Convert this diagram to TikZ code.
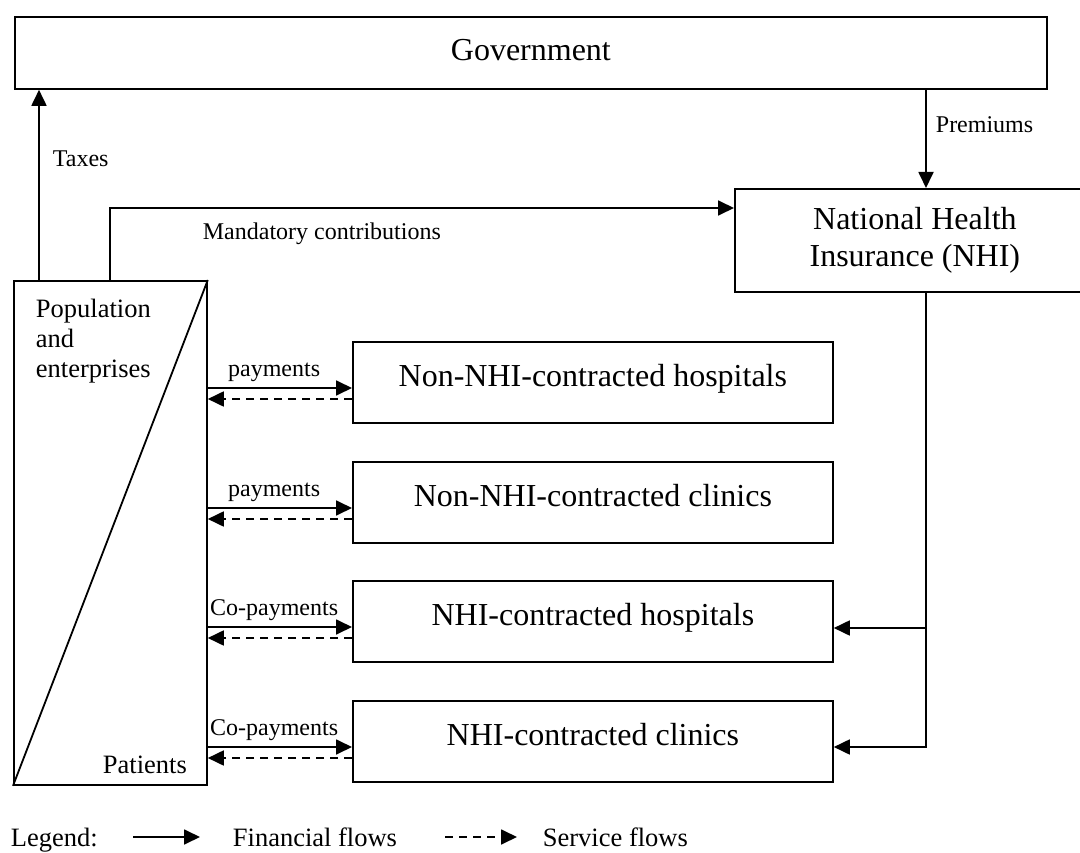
\documentclass[tikz,border=0pt]{standalone}
\usepackage{fontspec}
\setmainfont{Liberation Serif}
\usetikzlibrary{arrows.meta}
\tikzset{
  boxnode/.style={draw, line width=1.8pt, anchor=north west, inner sep=0pt},
  bigtext/.style={font=\fontsize{32}{37}\selectfont},
  midtext/.style={font=\fontsize{26.5}{30}\selectfont},
  smalltext/.style={font=\fontsize{24}{28}\selectfont},
  provbox/.style={boxnode, bigtext, minimum width=480pt, minimum height=81pt, text height=22pt, text depth=13pt},
  fin/.style={-{Triangle[length=16pt,width=15pt]}, line width=1.8pt},
  svc/.style={-{Triangle[length=16pt,width=15pt]}, line width=1.8pt, dash pattern=on 8pt off 6pt},
}
\begin{document}
\begin{tikzpicture}[x=1pt,y=-1pt,line width=1.8pt]
\useasboundingbox (0,0) rectangle (1080,853);
\clip (0,0) rectangle (1080,853);

% main boxes
\node[boxnode, bigtext, minimum width=1032pt, minimum height=72pt, text height=22pt, text depth=6pt] (gov) at (14,16) {Government};
\node[boxnode, bigtext, minimum width=360pt, minimum height=103pt, align=center] (nhi) at (734,188) {National Health\\Insurance (NHI)};
\node[boxnode, minimum width=193pt, minimum height=504pt] (pop) at (13,280) {};
\draw (pop.south west) -- (pop.north east);
\node[midtext, anchor=north west, inner sep=0pt, align=left] (popt) at (35,298) {Population\\and\\enterprises};
\node[midtext, anchor=base west, inner sep=0pt] (pat) at (102,773) {Patients};

\node[provbox] (h1) at (352,341) {Non-NHI-contracted hospitals};
\node[provbox] (h2) at (352,461) {Non-NHI-contracted clinics};
\node[provbox] (h3) at (352,580) {NHI-contracted hospitals};
\node[provbox] (h4) at (352,700) {NHI-contracted clinics};

% helper coordinates
\coordinate (tx) at (39,0);
\coordinate (mc) at (110,208);
\coordinate (px) at (926,0);

% taxes
\draw[fin] (pop.north -| tx) -- (gov.south -| tx);
\node[smalltext, anchor=base west, inner sep=0pt] (taxl) at (52,167) {Taxes};

% mandatory contributions
\draw[fin] (pop.north -| mc) -- (mc) -- (mc -| nhi.west);
\node[smalltext, anchor=base west, inner sep=0pt] (mandl) at (202,240) {Mandatory contributions};

% premiums
\draw[fin] (gov.south -| px) -- (nhi.north -| px);
\node[smalltext, anchor=base west, inner sep=0pt] (preml) at (935,133) {Premiums};

% NHI payments to contracted providers
\coordinate (b3) at ([yshift=-48pt]h3.north east);
\coordinate (b4) at ([yshift=-47pt]h4.north east);
\draw[fin] (nhi.south -| px) |- (b4);
\draw[fin] (b3 -| px) -- (b3);

% patient flows
\foreach \h/\lab in {h1/payments, h2/payments, h3/Co-payments, h4/Co-payments}{
  \coordinate (s\h) at ([yshift=-47pt]\h.north west);
  \coordinate (d\h) at ([yshift=-58pt]\h.north west);
  \draw[fin] (s\h -| pop.east) -- (s\h);
  \path (s\h -| pop.east) -- (s\h) node[smalltext, pos=0.46, anchor=base, inner sep=0pt, yshift=12pt] (l\h) {\lab};
  \draw[svc] (d\h) -- (d\h -| pop.east);
}

% legend
\node[midtext, anchor=base west, inner sep=0pt] (leg) at (10,846) {Legend:};
\coordinate (lfa) at (133,837);
\coordinate (lfb) at (200,837);
\draw[fin] (lfa) -- (lfb);
\node[midtext, anchor=base west, inner sep=0pt] (legf) at (232,846) {Financial flows};
\coordinate (lsa) at (445,837);
\coordinate (lsb) at (517,837);
\draw[svc] (lsa) -- (lsb);
\node[midtext, anchor=base west, inner sep=0pt] (legs) at (542,846) {Service flows};
\end{tikzpicture}
\end{document}
